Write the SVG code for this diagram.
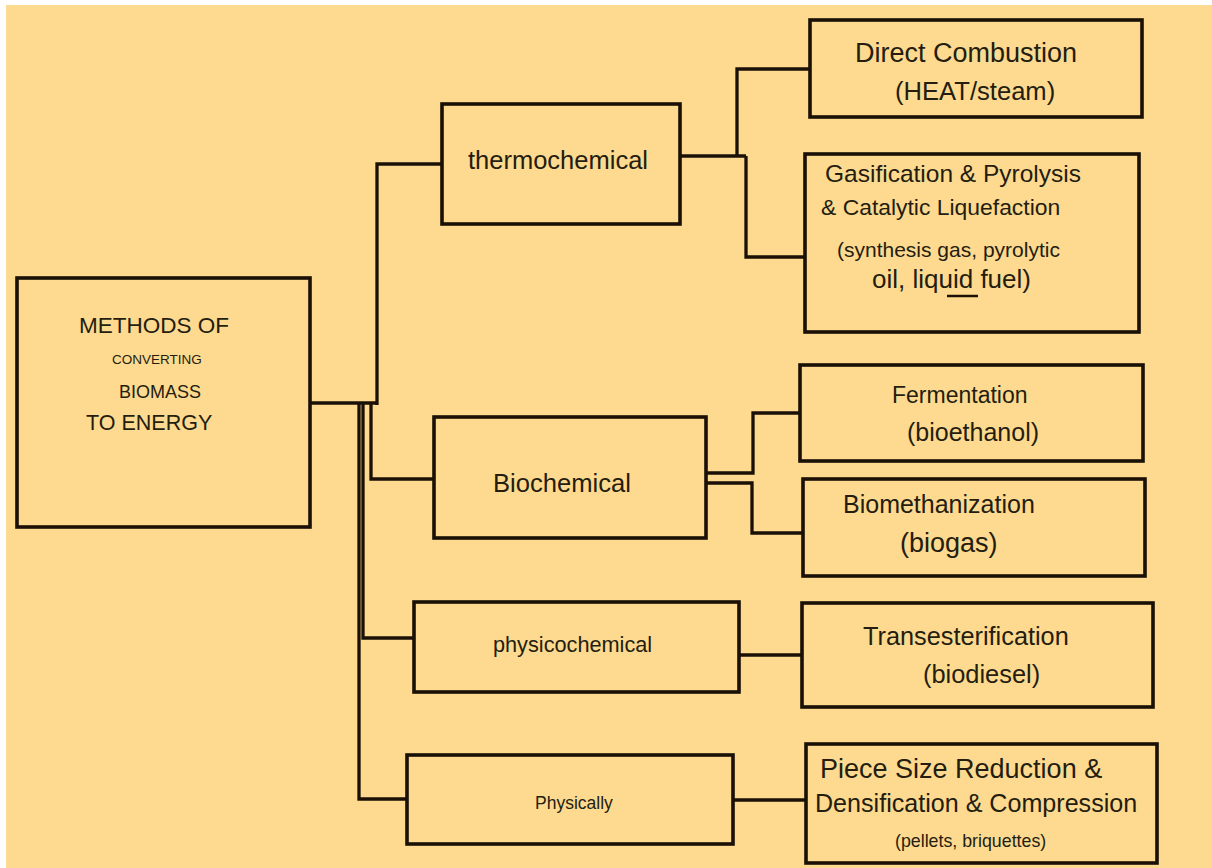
<svg xmlns="http://www.w3.org/2000/svg" width="1212" height="868" viewBox="0 0 1212 868">
<style>
.box{fill:none;stroke:#1a1006;stroke-width:3.6}
.ln{fill:none;stroke:#1a1006;stroke-width:3.3;stroke-linejoin:miter}
text{font-family:"Liberation Sans",Arial,sans-serif;fill:#241d10}
</style>
<rect x="0" y="0" width="1212" height="868" fill="#ffffff"/>
<rect x="6" y="5" width="1206" height="863" fill="#fdda8f"/>
<g id="connectors">
<path class="ln" d="M310,403 H377" stroke-width="5"/>
<path class="ln" d="M377,405 V164 H442"/>
<path class="ln" d="M363,403 V638 H414"/>
<path class="ln" d="M359,403 V799 H407"/>
<path class="ln" d="M371,403 V479 H434"/>
<path class="ln" d="M680,156 H746" stroke-width="4"/>
<path class="ln" d="M737,156 V69 H810"/>
<path class="ln" d="M746,156 V257 H805"/>
<path class="ln" d="M706,473 H753 V413 H800"/>
<path class="ln" d="M706,483 H752 V533 H803"/>
<path class="ln" d="M739,655 H802"/>
<path class="ln" d="M733,800 H806"/>
</g>
<g id="root">
<rect class="box" x="17" y="278" width="293" height="249"/>
<text x="79" y="333" font-size="22.5">METHODS OF</text>
<text x="112" y="364" font-size="13.5">CONVERTING</text>
<text x="119" y="398" font-size="18">BIOMASS</text>
<text x="86" y="430" font-size="21.5">TO ENERGY</text>
</g>
<g id="thermochemical">
<rect class="box" x="442" y="104" width="238" height="120"/>
<text x="468" y="169" font-size="25.5">thermochemical</text>
</g>
<g id="biochemical">
<rect class="box" x="434" y="417" width="272" height="121"/>
<text x="493" y="492" font-size="25.6">Biochemical</text>
</g>
<g id="physicochemical">
<rect class="box" x="414" y="602" width="325" height="90"/>
<text x="493" y="652" font-size="21.7">physicochemical</text>
</g>
<g id="physically">
<rect class="box" x="407" y="755" width="326" height="89"/>
<text x="535" y="809" font-size="17.5">Physically</text>
</g>
<g id="direct-combustion">
<rect class="box" x="810" y="20" width="332" height="97"/>
<text x="855" y="62" font-size="27">Direct Combustion</text>
<text x="895" y="100" font-size="25.6">(HEAT/steam)</text>
</g>
<g id="gasification">
<rect class="box" x="805" y="154" width="334" height="178"/>
<text x="825" y="182" font-size="24.5">Gasification &amp; Pyrolysis</text>
<text x="821" y="215" font-size="22.9">&amp; Catalytic Liquefaction</text>
<text x="837" y="257" font-size="21">(synthesis gas, pyrolytic</text>
<text x="872" y="288" font-size="26">oil, liquid fuel)</text>
<path d="M947,296 H978" stroke="#1a1006" stroke-width="2.5"/>
</g>
<g id="fermentation">
<rect class="box" x="800" y="365" width="343" height="96"/>
<text x="892" y="403" font-size="23">Fermentation</text>
<text x="907" y="441" font-size="25">(bioethanol)</text>
</g>
<g id="biomethanization">
<rect class="box" x="803" y="479" width="342" height="97"/>
<text x="843" y="513" font-size="25">Biomethanization</text>
<text x="900" y="552" font-size="27">(biogas)</text>
</g>
<g id="transesterification">
<rect class="box" x="802" y="603" width="351" height="104"/>
<text x="863" y="645" font-size="25.3">Transesterification</text>
<text x="923" y="683" font-size="25.4">(biodiesel)</text>
</g>
<g id="densification">
<rect class="box" x="806" y="744" width="351" height="119"/>
<text x="820" y="778" font-size="27">Piece Size Reduction &amp;</text>
<text x="815" y="812" font-size="25.1">Densification &amp; Compression</text>
<text x="895" y="847" font-size="17.8">(pellets, briquettes)</text>
</g>
</svg>
